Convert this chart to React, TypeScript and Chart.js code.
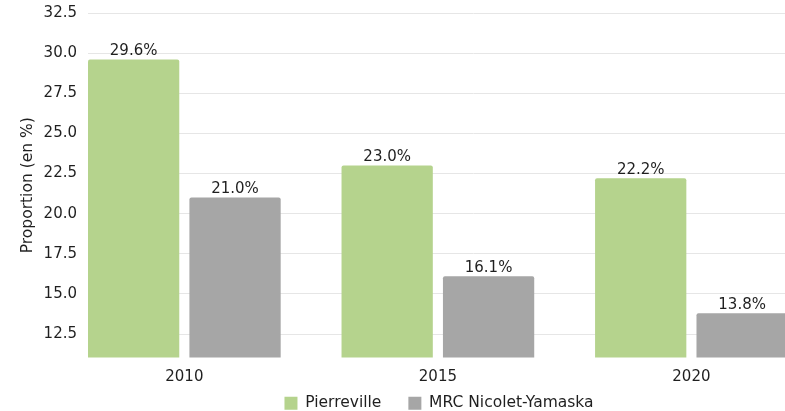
import React, { useEffect, useRef } from "react";
import { Chart, registerables } from "chart.js";
Chart.register(...registerables);

const categories = ["2010", "2015", "2020"];
const seriesNames = ["Pierreville", "MRC Nicolet-Yamaska"];
const pierreville = [29.6, 23.0, 22.2];
const mrc = [21.0, 16.1, 13.8];
const yTicks = [12.5, 15.0, 17.5, 20.0, 22.5, 25.0, 27.5, 30.0, 32.5];
const yTitle = "Proportion (en %)";

const GREEN = "rgb(181,211,141)";
const GRAY = "rgb(166,166,166)";
const TEXT = "#1f1f1f";

const valueLabels = {
  id: "valueLabels",
  afterDatasetsDraw(chart: any) {
    const ctx = chart.ctx;
    ctx.save();
    ctx.font = "15px 'DejaVu Sans'";
    ctx.fillStyle = TEXT;
    ctx.textAlign = "center";
    ctx.textBaseline = "alphabetic";
    chart.data.datasets.forEach((ds: any, di: number) => {
      const meta = chart.getDatasetMeta(di);
      meta.data.forEach((el: any, i: number) => {
        const v = ds.data[i].y;
        ctx.fillText(v.toFixed(1) + "%", el.x, el.y - 4.5);
      });
    });
    ctx.restore();
  },
};

// pull the legend up under the x tick labels
const legendNudge = {
  id: "legendNudge",
  afterLayout(chart: any) {
    const lg = chart.legend;
    const xs = chart.scales.x;
    if (!lg || !xs) return;
    const d = lg.top - (xs.top + 11);
    lg.top -= d;
    lg.bottom -= d;
  },
};

export default function App() {
  const ref = useRef<HTMLCanvasElement>(null);
  useEffect(() => {
    if (!ref.current) return;
    Chart.defaults.font.family = "'DejaVu Sans', sans-serif";
    Chart.defaults.font.size = 15;
    Chart.defaults.color = TEXT;
    const chart = new Chart(ref.current, {
      type: "bar",
      data: {
        datasets: [
          {
            label: seriesNames[0],
            data: pierreville.map((v, i) => ({ x: i, y: v })),
            backgroundColor: GREEN,
            borderRadius: 2,
            borderSkipped: "bottom",
          },
          {
            label: seriesNames[1],
            data: mrc.map((v, i) => ({ x: i, y: v })),
            backgroundColor: GRAY,
            borderRadius: 2,
            borderSkipped: "bottom",
          },
        ],
      },
      options: {
        animation: false,
        responsive: false,
        layout: { padding: { left: 19, right: 21, top: 13, bottom: 0 } },
        plugins: {
          tooltip: { enabled: false },
          legend: {
            position: "bottom",
            labels: {
              boxWidth: 13,
              boxHeight: 13,
              padding: 27,
              font: { size: 15.5 },
              color: TEXT,
            },
          },
        },
        scales: {
          x: {
            type: "linear",
            offset: false,
            min: -0.38,
            max: 2.661,
            grid: { display: false, drawTicks: false, offset: false },
            border: { display: false },
            afterBuildTicks: (s: any) => {
              s.ticks = categories.map((_, i) => ({ value: i }));
            },
            afterFit: (s: any) => {
              s.paddingLeft = 0;
              s.paddingRight = 0;
            },
            ticks: {
              padding: 11,
              font: { size: 15 },
              color: TEXT,
              maxRotation: 0,
              autoSkip: false,
              callback: (v: any) => categories[v] ?? "",
            },
          },
          y: {
            min: 11.04,
            max: 32.5,
            grid: { color: "#e6e6e6", drawTicks: false },
            border: { display: false },
            afterBuildTicks: (s: any) => {
              s.ticks = yTicks.map((v) => ({ value: v }));
            },
            afterFit: (s: any) => {
              s.width = 69;
              s.paddingTop = 0;
              s.paddingBottom = 0;
            },
            ticks: {
              padding: 11,
              font: { size: 15 },
              color: TEXT,
              callback: (v: any) => Number(v).toFixed(1),
            },
            title: {
              display: true,
              text: yTitle,
              font: { size: 15.5 },
              color: TEXT,
              padding: { top: 0, bottom: 0 },
            },
          },
        },
      } as any,
      plugins: [valueLabels, legendNudge],
    });
    return () => chart.destroy();
  }, []);
  return (
    <div
      style={{
        position: "absolute",
        left: 0,
        top: 0,
        width: 785,
        height: 411,
        overflow: "hidden",
        background: "#fff",
      }}
    >
      <canvas ref={ref} width={880} height={450} style={{ display: "block" }} />
    </div>
  );
}
